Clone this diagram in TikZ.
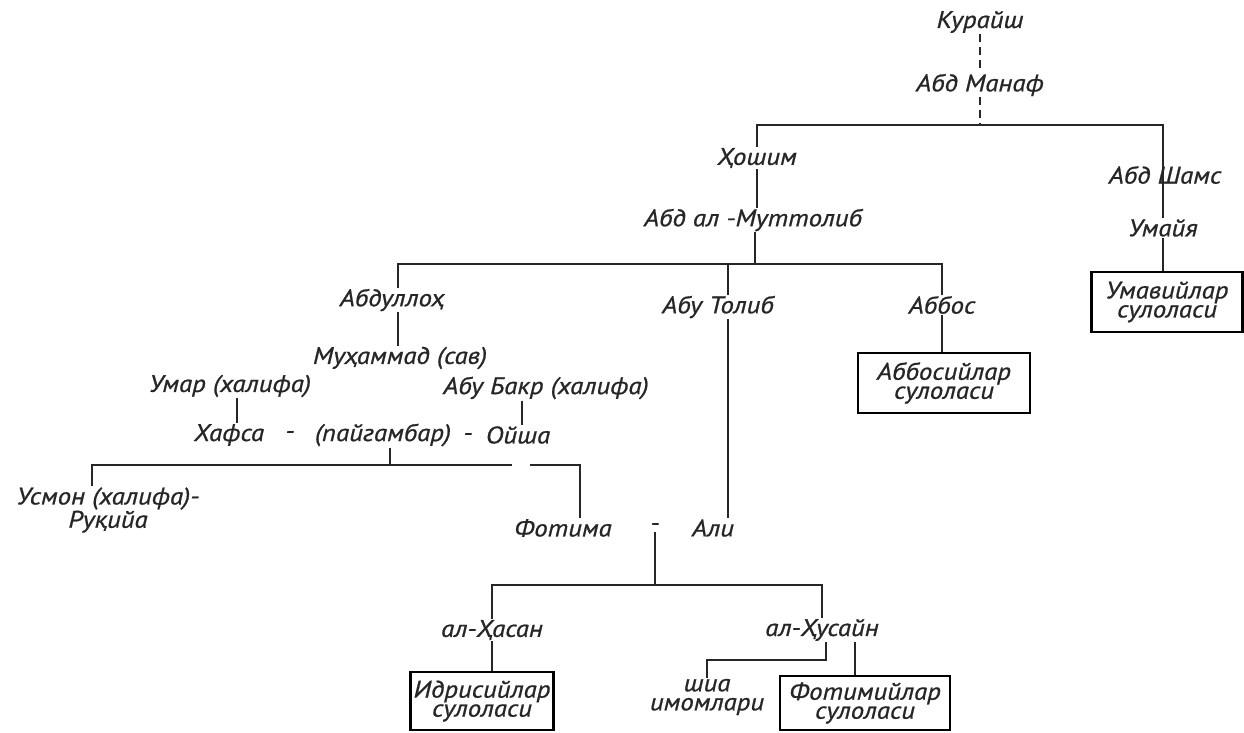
\documentclass[tikz,border=0pt]{standalone}
\usepackage{fontspec}
\newfontfamily\chartfont{PT Sans}[FakeStretch=1.12,FakeBold=0.8]
\usetikzlibrary{calc}

\begin{document}
\begin{tikzpicture}[x=1pt, y=-1pt,
	person/.style = {inner sep=1pt, text=black!85, font=\chartfont\itshape\fontsize{24}{19}\selectfont, align=center},
	dynasty/.style = {person, draw, line width=2.2pt, inner sep=0pt},
	link/.style = {line width=2.2pt, color=black!85}]
\useasboundingbox (0,0) rectangle (1244,733);

% Quraysh and Abd Manaf
\node[person] (kuraysh) at (980,22) {Курайш};
\node[person] (abdmanaf) at (980,85) {Абд Манаф};
\node[person] (hoshim) at (757,158) {Ҳошим};
\node[person] (abdshams) at (1165,175) {Абд Шамс};
\node[person] (muttolib) at (753,220) {Абд ал -Муттолиб};
\node[person] (umayya) at (1163,228) {Умайя};
\node[dynasty, minimum width=151, minimum height=60] (umaviy) at (1167,302) {Умавийлар\\сулоласи};

\coordinate (bar1) at (980,125);
\draw[link, dash pattern=on 8pt off 5pt] (kuraysh) -- (abdmanaf);
\draw[link, dash pattern=on 8pt off 5pt] (abdmanaf) -- (bar1);
\draw[link] (hoshim.north) |- (bar1) -| (umayya.north);
\draw[link] (hoshim) -- (hoshim |- muttolib.north);
\draw[link] (umayya) -- (umayya |- umaviy.north);

% sons of Abd al-Muttalib
\node[person] (abdulloh) at (392,300) {Абдуллоҳ};
\node[person] (abutolib) at (718,307) {Абу Толиб};
\node[person] (abbos) at (942,305) {Аббос};
\node[dynasty, minimum width=172, minimum height=60] (abbosiy) at (944,383) {Аббосийлар\\сулоласи};

\coordinate (bar2) at (755,264);
\draw[link] (muttolib.south -| bar2) -- (bar2);
\draw[link] ([xshift=6pt]abdulloh.north) |- (bar2) -| (abbos.north);
\draw[link] ([xshift=10pt]abutolib.north) -- ([xshift=10pt]abutolib.north |- bar2);
\draw[link] (abbos) -- (abbos |- abbosiy.north);

% the Prophet and his wives
\node[person] (muhammad) at (400,358) {Муҳаммад (сав)};
\node[person] (umar) at (230,386) {Умар (халифа)};
\node[person] (abubakr) at (546,388) {Абу Бакр (халифа)};
\node[person] (hafsa) at (229,435) {Хафса};
\node[person] (dash1) at (290,435) {-};
\node[person] (paygambar) at (383,435) {(пайгамбар)};
\node[person] (dash2) at (468,437) {-};
\node[person] (oysha) at (518,435) {Ойша};

\draw[link] ([xshift=6pt]abdulloh.south) -- ([xshift=6pt]abdulloh.south |- muhammad.north);
\draw[link] ([xshift=7pt]umar.south) -- ([xshift=7pt]umar.south |- hafsa.north);
\draw[link] ([xshift=4pt]oysha.north) -- ([xshift=4pt]oysha.north |- abubakr.south);

% children
\node[person] (usmon) at (108,510) {Усмон (халифа)-\\Руқийа};
\node[person] (fotima) at (563,528) {Фотима};
\node[person] (dash3) at (655,527) {-};
\node[person] (ali) at (713,528) {Али};

\coordinate (bar3) at (390,465);
\coordinate (gapL) at (512,465);
\coordinate (gapR) at (530,465);
\draw[link] (paygambar.south -| bar3) -- (bar3);
\draw[link] ([xshift=-16pt]usmon.north) |- (gapL);
\draw[link] (gapR) -| ([xshift=17pt]fotima.north);
\draw[link] ([xshift=10pt]abutolib.south) -- ([xshift=10pt]abutolib.south |- ali.north);

% grandsons
\node[person] (hasan) at (492,630) {ал-Ҳасан};
\node[person] (husayn) at (822,630) {ал-Ҳусайн};
\node[dynasty, minimum width=143, minimum height=58] (idrisiy) at (482,701) {Идрисийлар\\сулоласи};
\node[person] (shia) at (707,697) {шиа\\имомлари};
\node[dynasty, minimum width=170, minimum height=54] (fotimiy) at (865,703) {Фотимийлар\\сулоласи};

\coordinate (bar4) at (655,585);
\coordinate (bar5) at (826,660);
\draw[link] (dash3) -- (bar4);
\draw[link] (hasan.north) |- (bar4) -| (husayn.north);
\draw[link] (hasan) -- (hasan |- idrisiy.north);
\draw[link] ([xshift=4pt]husayn.south) -- (bar5) -| (shia.north);
\draw[link] ([xshift=33pt]husayn.south) -- ([xshift=33pt]husayn.south |- fotimiy.north);

\end{tikzpicture}
\end{document}
